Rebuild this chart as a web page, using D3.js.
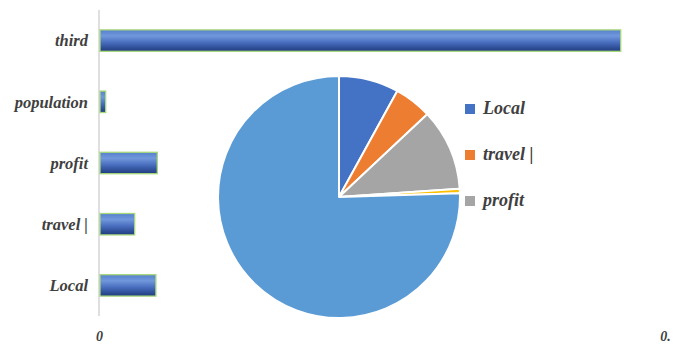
<!DOCTYPE html>
<html>
<head>
<meta charset="utf-8">
<script src="https://cdn.jsdelivr.net/npm/d3@7"></script>
<style>
  html, body { margin: 0; padding: 0; background: #ffffff; }
  svg { display: block; }
</style>
</head>
<body>
<svg id="chart" width="675" height="345"></svg>
<script>
// Categories, listed top to bottom for the bar chart
const categories = ["third", "population", "profit", "travel |", "Local"];
// Bar lengths (axis units)
const barValues = [0.736, 0.008, 0.081, 0.049, 0.079];
// Pie shares (percent), in clockwise order from 12 o'clock
const pieCategories = ["Local", "travel |", "profit", "population", "third"];
const pieValues = [8.0, 5.0, 10.9, 0.6, 75.5];
const pieColors = ["#4472c4", "#ed7d31", "#a5a5a5", "#ffc000", "#5b9bd5"];
// Legend entries shown beside the pie
const legendItems = ["Local", "travel |", "profit"];
// X axis ticks
const xTickValues = [0, 0.8];
const xTickLabels = ["0", "0."];

const svg = d3.select("#chart");
const labelFont = "'Liberation Serif', 'DejaVu Serif', serif";

// Gradient fill for bars
const defs = svg.append("defs");
const grad = defs.append("linearGradient")
  .attr("id", "barGrad").attr("x1", 0).attr("y1", 0).attr("x2", 0).attr("y2", 1);
[["0%", "#5580cc"], ["28%", "#7198dc"], ["58%", "#4a6fbf"], ["85%", "#2d4d95"], ["100%", "#203c7c"]]
  .forEach(([o, c]) => grad.append("stop").attr("offset", o).attr("stop-color", c));

const x = d3.scaleLinear().domain([0, 0.8]).range([99, 665]);
const y = d3.scaleBand().domain(categories).range([10, 316])
  .paddingInner(0.65).paddingOuter(0.325);

// Vertical baseline
svg.append("line")
  .attr("x1", x(0)).attr("x2", x(0))
  .attr("y1", 10).attr("y2", 316)
  .attr("stroke", "#d4d4d4").attr("stroke-width", 1.5);

// Bars
svg.append("g").selectAll("rect")
  .data(categories)
  .join("rect")
  .attr("x", x(0) + 1)
  .attr("y", d => y(d))
  .attr("width", (d, i) => x(barValues[i]) - x(0))
  .attr("height", y.bandwidth())
  .attr("fill", "url(#barGrad)")
  .attr("stroke", "#a6d77a")
  .attr("stroke-width", 1.3);

// Category labels
svg.append("g").selectAll("text")
  .data(categories)
  .join("text")
  .attr("x", 88)
  .attr("y", d => y(d) + y.bandwidth() / 2)
  .attr("dy", "0.35em")
  .attr("text-anchor", "end")
  .attr("font-family", labelFont)
  .attr("font-size", 16.5)
  .attr("font-weight", "bold")
  .attr("font-style", "italic")
  .attr("fill", "#404040")
  .text(d => d);

// X axis tick labels
const xAxis = d3.axisBottom(x)
  .tickValues(xTickValues)
  .tickFormat((d, i) => xTickLabels[i])
  .tickSize(0)
  .tickPadding(0);
const gx = svg.append("g").attr("transform", "translate(0,337)").call(xAxis);
gx.select(".domain").remove();
gx.selectAll("text")
  .attr("font-family", labelFont)
  .attr("font-size", 14)
  .attr("font-weight", "bold")
  .attr("font-style", "italic")
  .attr("fill", "#404040")
  .attr("dy", "0.3em");

// Pie
const pieData = d3.pie().sort(null).value(d => d)(pieValues);
const arc = d3.arc().innerRadius(0).outerRadius(121);
svg.append("g")
  .attr("transform", "translate(339,197)")
  .selectAll("path")
  .data(pieData)
  .join("path")
  .attr("d", arc)
  .attr("fill", (d, i) => pieColors[i])
  .attr("stroke", "#ffffff")
  .attr("stroke-width", 2)
  .attr("stroke-linejoin", "round");

// Legend
const legend = svg.append("g").selectAll("g")
  .data(legendItems)
  .join("g")
  .attr("transform", (d, i) => `translate(465,${104 + i * 46})`);
legend.append("rect")
  .attr("width", 10).attr("height", 10)
  .attr("fill", d => pieColors[pieCategories.indexOf(d)]);
legend.append("text")
  .attr("x", 18).attr("y", 10)
  .attr("font-family", labelFont)
  .attr("font-size", 18)
  .attr("font-weight", "bold")
  .attr("font-style", "italic")
  .attr("fill", "#404040")
  .text(d => d);
</script>
</body>
</html>
